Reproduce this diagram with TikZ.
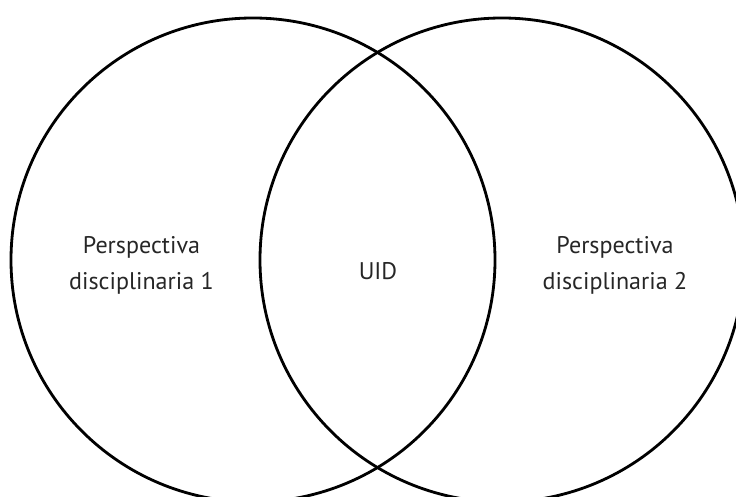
\documentclass[tikz,border=0pt]{standalone}
\usepackage{fontspec}
\setmainfont{PT Sans}
\usepackage{tikz}
\tikzset{%
  disc/.style={draw,shape=circle,line width=1.6pt,minimum size=9.68cm,inner sep=0},
  lbl/.style={align=center,font=\fontsize{13.7}{20.5}\selectfont,text=black!85}
}
\begin{document}
\begin{tikzpicture}
      \useasboundingbox (0,0) rectangle (14.72,-9.94);
      \clip (0,0) rectangle (14.72,-9.94);
      \node[disc](p1) at (5.06,-5.20) {};
      \node[disc](p2) at (10.04,-5.20) {};
      \node[lbl](t1) at (2.83,-5.30) {Perspectiva\\disciplinaria 1};
      \node[lbl](t2) at (12.30,-5.30) {Perspectiva\\disciplinaria 2};
      \node[lbl](uid) at (7.56,-5.42) {UID};
    \end{tikzpicture}
\end{document}
